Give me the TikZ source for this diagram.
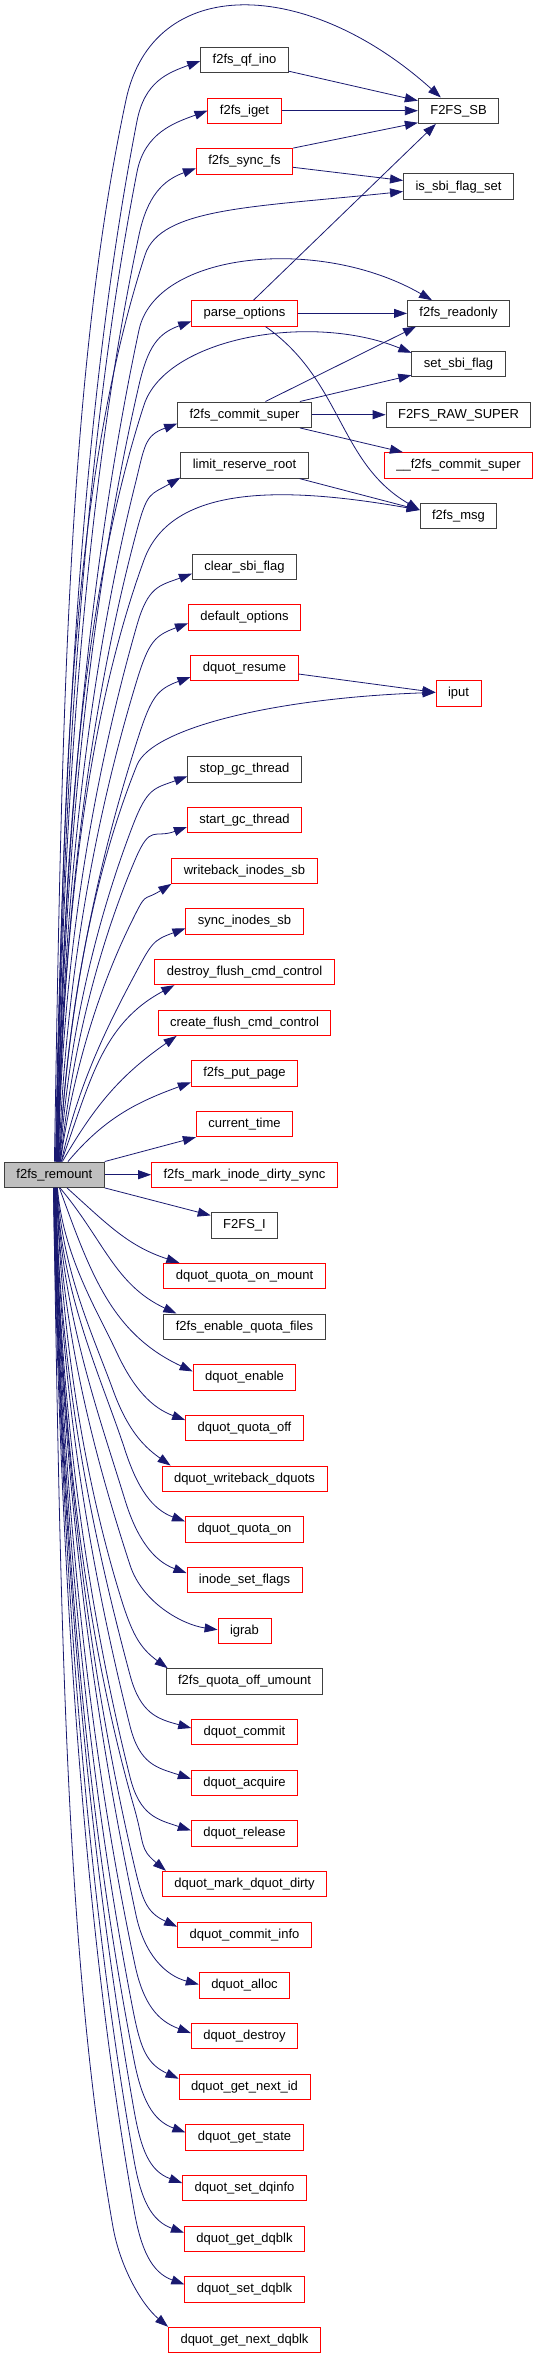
\documentclass[tikz,border=0pt]{standalone}
\usepackage{fontspec}
\setmainfont{Liberation Sans}
\usetikzlibrary{arrows.meta}
\definecolor{edgeblue}{HTML}{191970}
\definecolor{boxgray}{HTML}{404040}
\definecolor{rootgray}{HTML}{BFBFBF}
\tikzset{
  fn/.style={draw=boxgray, line width=0.9pt, font=\fontsize{13}{15}\selectfont,
    inner xsep=12pt, inner ysep=0pt, minimum height=25.5pt, text height=10pt, text depth=3pt},
  fnred/.style={fn, draw=red},
  fnroot/.style={fn, fill=rootgray},
  call/.style={edgeblue, line width=0.8pt, -{Triangle[length=13pt,width=9pt]}},
}

\begin{document}
\begin{tikzpicture}[x=1pt,y=1pt]
\useasboundingbox (0,0) rectangle (537,-2359);
\node[fnroot] (remount) at (54.4,-1174.7) {f2fs\_remount};
% linke Spalte
\node[fn]    (qfino)       at (244.5,-60)     {f2fs\_qf\_ino};
\node[fnred] (iget)        at (244.5,-110.7)  {f2fs\_iget};
\node[fnred] (syncfs)      at (244.5,-161.3)  {f2fs\_sync\_fs};
\node[fnred] (parseopt)    at (244.5,-313.4)  {parse\_options};
\node[fn]    (commitsuper) at (244.5,-414.7)  {f2fs\_commit\_super};
\node[fn]    (limitroot)   at (244.5,-465.4)  {limit\_reserve\_root};
\node[fn]    (clearflag)   at (244.5,-566.7)  {clear\_sbi\_flag};
\node[fnred] (defopts)     at (244.5,-617.4)  {default\_options};
\node[fnred] (dqresume)    at (244.5,-668)    {dquot\_resume};
\node[fn]    (stopgc)      at (244.5,-769.4)  {stop\_gc\_thread};
\node[fnred] (startgc)     at (244.5,-820)    {start\_gc\_thread};
\node[fnred] (wbinodes)    at (244.5,-870.7)  {writeback\_inodes\_sb};
\node[fnred] (syncinodes)  at (244.5,-921.4)  {sync\_inodes\_sb};
\node[fnred] (destroyfcc)  at (244.5,-972)    {destroy\_flush\_cmd\_control};
\node[fnred] (createfcc)   at (244.5,-1022.7) {create\_flush\_cmd\_control};
\node[fnred] (putpage)     at (244.5,-1073.4) {f2fs\_put\_page};
\node[fnred] (curtime)     at (244.5,-1124)   {current\_time};
\node[fnred] (markdirty)   at (244.5,-1174.7) {f2fs\_mark\_inode\_dirty\_sync};
\node[fn]    (fsi)         at (244.5,-1225.4) {F2FS\_I};
\node[fnred] (qonmount)    at (244.5,-1276)   {dquot\_quota\_on\_mount};
\node[fn]    (enquota)     at (244.5,-1326.7) {f2fs\_enable\_quota\_files};
\node[fnred] (dqenable)    at (244.5,-1377.4) {dquot\_enable};
\node[fnred] (qoff)        at (244.5,-1428)   {dquot\_quota\_off};
\node[fnred] (wbdquots)    at (244.5,-1478.7) {dquot\_writeback\_dquots};
\node[fnred] (qon)         at (244.5,-1529.4) {dquot\_quota\_on};
\node[fnred] (setflags)    at (244.5,-1580)   {inode\_set\_flags};
\node[fnred] (igrab)       at (244.5,-1630.7) {igrab};
\node[fn]    (qoffumount)  at (244.5,-1681.4) {f2fs\_quota\_off\_umount};
\node[fnred] (dqcommit)    at (244.5,-1732)   {dquot\_commit};
\node[fnred] (dqacquire)   at (244.5,-1782.7) {dquot\_acquire};
\node[fnred] (dqrelease)   at (244.5,-1833.4) {dquot\_release};
\node[fnred] (markdqdirty) at (244.5,-1884)   {dquot\_mark\_dquot\_dirty};
\node[fnred] (commitinfo)  at (244.5,-1934.7) {dquot\_commit\_info};
\node[fnred] (dqalloc)     at (244.5,-1985.4) {dquot\_alloc};
\node[fnred] (dqdestroy)   at (244.5,-2036)   {dquot\_destroy};
\node[fnred] (nextid)      at (244.5,-2086.7) {dquot\_get\_next\_id};
\node[fnred] (getstate)    at (244.5,-2137.4) {dquot\_get\_state};
\node[fnred] (setdqinfo)   at (244.5,-2188)   {dquot\_set\_dqinfo};
\node[fnred] (getdqblk)    at (244.5,-2238.7) {dquot\_get\_dqblk};
\node[fnred] (setdqblk)    at (244.5,-2289.4) {dquot\_set\_dqblk};
\node[fnred] (nextdqblk)   at (244.5,-2340)   {dquot\_get\_next\_dqblk};
% rechte Spalte
\node[fn]    (sb)           at (458.5,-110.7) {F2FS\_SB};
\node[fn]    (isflagset)    at (458.5,-186.5) {is\_sbi\_flag\_set};
\node[fn]    (readonly)     at (458.5,-313.4) {f2fs\_readonly};
\node[fn]    (setflag)      at (458.5,-364)   {set\_sbi\_flag};
\node[fn]    (rawsuper)     at (458.5,-414.7) {F2FS\_RAW\_SUPER};
\node[fnred] (ucommitsuper) at (458.5,-465.4) {\_\_f2fs\_commit\_super};
\node[fn]    (msg)          at (458.5,-516)   {f2fs\_msg};
\node[fnred] (iput)         at (458.5,-693.4) {iput};

% nach oben
\draw[call] (remount.north) .. controls ([shift={(89:415)}]remount.north) and ([shift={(258:290)}]126,-100) .. (126,-100)
  .. controls ([shift={(78:130)}]126,-100) and ([xshift=23,shift={(138:180)}]sb.north west) .. ([xshift=23]sb.north west);
\draw[call] ([xshift=1]remount.north) .. controls ([xshift=1,shift={(89:407)}]remount.north) and ([shift={(259:285)}]137,-121) .. (137,-121)
  .. controls ([shift={(79:40)}]137,-121) and ([yshift=-1,shift={(200:35)}]qfino.west) .. ([yshift=-1]qfino.west);
\draw[call] ([xshift=1.5]remount.north) .. controls ([xshift=1.5,shift={(89:387)}]remount.north) and ([shift={(259:270)}]137,-172) .. (137,-172)
  .. controls ([shift={(79:40)}]137,-172) and ([shift={(200:35)}]iget.west) .. (iget.west);
\draw[call] ([xshift=2]remount.north) .. controls ([xshift=2,shift={(89:363)}]remount.north) and ([shift={(258:253)}]139,-235) .. (139,-235)
  .. controls ([shift={(78:40)}]139,-235) and ([yshift=-7,shift={(200:35)}]syncfs.west) .. ([yshift=-7]syncfs.west);
\draw[call] ([xshift=2]remount.north) .. controls ([xshift=2,shift={(89:355)}]remount.north) and ([shift={(252:248)}]145,-255) .. (145,-255)
  .. controls ([shift={(72:50)}]145,-255) and ([yshift=-5,shift={(186:150)}]isflagset.west) .. ([yshift=-5]isflagset.west);
\draw[call] ([xshift=2.5]remount.north) .. controls ([xshift=2.5,shift={(89:326)}]remount.north) and ([shift={(258:228)}]139,-330) .. (139,-330)
  .. controls ([shift={(78:80)}]139,-330) and ([xshift=25,shift={(150:130)}]readonly.north west) .. ([xshift=25]readonly.north west);
\draw[call] ([xshift=3]remount.north) .. controls ([xshift=3,shift={(89:305)}]remount.north) and ([shift={(257:213)}]139,-385) .. (139,-385)
  .. controls ([shift={(77:40)}]139,-385) and ([yshift=-8,shift={(200:35)}]parseopt.west) .. ([yshift=-8]parseopt.west);
\draw[call] ([xshift=3]remount.north) .. controls ([xshift=3,shift={(89:297)}]remount.north) and ([shift={(252:207)}]144,-405) .. (144,-405)
  .. controls ([shift={(72:70)}]144,-405) and ([yshift=-2,shift={(158:110)}]setflag.north west) .. ([yshift=-2]setflag.north west);
\draw[call] ([xshift=3.5]remount.north) .. controls ([xshift=3.5,shift={(89:266)}]remount.north) and ([shift={(256:186)}]135,-485) .. (135,-485)
  .. controls ([shift={(76:40)}]135,-485) and ([yshift=-9,shift={(200:35)}]commitsuper.west) .. ([yshift=-9]commitsuper.west);
\draw[call] ([xshift=3.5]remount.north) .. controls ([xshift=3.5,shift={(89:248)}]remount.north) and ([shift={(255:174)}]137,-530) .. (137,-530)
  .. controls ([shift={(75:40)}]137,-530) and ([yshift=1,shift={(210:35)}]limitroot.south west) .. ([yshift=1]limitroot.south west);
\draw[call] ([xshift=4]remount.north) .. controls ([xshift=4,shift={(89:237)}]remount.north) and ([shift={(250:166)}]144,-560) .. (144,-560)
  .. controls ([shift={(70:80)}]144,-560) and ([yshift=6,shift={(170:140)}]msg.west) .. ([yshift=6]msg.west);
\draw[call] ([xshift=4]remount.north) .. controls ([xshift=4,shift={(89:212)}]remount.north) and ([shift={(254:148)}]137,-625) .. (137,-625)
  .. controls ([shift={(74:40)}]137,-625) and ([yshift=-7,shift={(200:35)}]clearflag.west) .. ([yshift=-7]clearflag.west);
\draw[call] ([xshift=4.5]remount.north) .. controls ([xshift=4.5,shift={(88:191)}]remount.north) and ([shift={(253:133)}]137,-680) .. (137,-680)
  .. controls ([shift={(73:40)}]137,-680) and ([yshift=-6,shift={(200:35)}]defopts.west) .. ([yshift=-6]defopts.west);
\draw[call] ([xshift=5]remount.north) .. controls ([xshift=5,shift={(87:170)}]remount.north) and ([shift={(252:119)}]139,-735) .. (139,-735)
  .. controls ([shift={(72:40)}]139,-735) and ([yshift=-9,shift={(200:35)}]dqresume.west) .. ([yshift=-9]dqresume.west);
\draw[call] ([xshift=5]remount.north) .. controls ([xshift=5,shift={(87:158)}]remount.north) and ([shift={(248:110)}]137,-765) .. (137,-765)
  .. controls ([shift={(68:40)}]137,-765) and ([yshift=1,shift={(182:160)}]iput.west) .. ([yshift=1]iput.west);
\draw[call] ([xshift=5.5]remount.north) .. controls ([xshift=5.5,shift={(86:135)}]remount.north) and ([shift={(249:94)}]133,-825) .. (133,-825)
  .. controls ([shift={(69:40)}]133,-825) and ([yshift=-7,shift={(200:35)}]stopgc.west) .. ([yshift=-7]stopgc.west);
\draw[call] ([xshift=6]remount.north) .. controls ([xshift=6,shift={(84:122)}]remount.north) and ([shift={(247:85)}]135,-860) .. (135,-860)
  .. controls ([shift={(67:40)}]135,-860) and ([yshift=-7,shift={(200:35)}]startgc.west) .. ([yshift=-7]startgc.west);
\draw[call] ([xshift=6]remount.north) .. controls ([xshift=6,shift={(82:96)}]remount.north) and ([shift={(244:67)}]130,-925) .. (130,-925)
  .. controls ([shift={(64:40)}]130,-925) and ([shift={(212:35)}]wbinodes.south west) .. (wbinodes.south west);
\draw[call] ([xshift=7]remount.north) .. controls ([xshift=7,shift={(78:77)}]remount.north) and ([shift={(242:54)}]133,-978) .. (133,-978)
  .. controls ([shift={(62:40)}]133,-978) and ([yshift=-7,shift={(200:35)}]syncinodes.west) .. ([yshift=-7]syncinodes.west);
\draw[call] ([xshift=7]remount.north) .. controls ([xshift=7,shift={(70:83)}]remount.north) and ([xshift=20,shift={(208:83)}]destroyfcc.south west) .. ([xshift=20]destroyfcc.south west);
\draw[call] ([xshift=8]remount.north) .. controls ([xshift=8,shift={(60:67)}]remount.north) and ([xshift=19,shift={(215:67)}]createfcc.south west) .. ([xshift=19]createfcc.south west);
\draw[call] ([xshift=13.6]remount.north) .. controls ([xshift=13.6,shift={(50:57)}]remount.north) and ([yshift=-9,shift={(200:57)}]putpage.west) .. ([yshift=-9]putpage.west);
\draw[call] (remount.north east) -- (curtime.south west);
\draw[call] (remount.east) -- (markdirty.west);
% nach unten
\draw[call] (remount.south east) -- ([yshift=10]fsi.west);
\draw[call] ([xshift=12.6]remount.south) .. controls ([xshift=12.6,shift={(-42:54)}]remount.south) and ([xshift=16,shift={(162:54)}]qonmount.north west) .. ([xshift=16]qonmount.north west);
\draw[call] ([xshift=5.6]remount.south) .. controls ([xshift=5.6,shift={(-50:68)}]remount.south) and ([xshift=13,shift={(155:68)}]enquota.north west) .. ([xshift=13]enquota.north west);
\draw[call] ([xshift=5]remount.south) .. controls ([xshift=5,shift={(-70:90)}]remount.south) and ([yshift=6,shift={(155:90)}]dqenable.west) .. ([yshift=6]dqenable.west);
\draw[call] ([xshift=3]remount.south) .. controls ([xshift=3,shift={(-85:69)}]remount.south) and ([shift={(115:48)}]117,-1353) .. (117,-1353)
  .. controls ([shift={(-65:40)}]117,-1353) and ([yshift=8,shift={(160:35)}]qoff.west) .. ([yshift=8]qoff.west);
\draw[call] ([xshift=3]remount.south) .. controls ([xshift=3,shift={(-87:82)}]remount.south) and ([shift={(110:57)}]113,-1390) .. (113,-1390)
  .. controls ([shift={(-70:40)}]113,-1390) and ([xshift=9,shift={(145:35)}]wbdquots.north west) .. ([xshift=9]wbdquots.north west);
\draw[call] ([xshift=2.5]remount.south) .. controls ([xshift=2.5,shift={(-88:106)}]remount.south) and ([shift={(108:74)}]125,-1450) .. (125,-1450)
  .. controls ([shift={(-72:40)}]125,-1450) and ([yshift=8,shift={(160:35)}]qon.west) .. ([yshift=8]qon.west);
\draw[call] ([xshift=2.5]remount.south) .. controls ([xshift=2.5,shift={(-88:125)}]remount.south) and ([shift={(107:88)}]125,-1500) .. (125,-1500)
  .. controls ([shift={(-73:40)}]125,-1500) and ([yshift=7,shift={(160:35)}]setflags.west) .. ([yshift=7]setflags.west);
\draw[call] ([xshift=2]remount.south) .. controls ([xshift=2,shift={(-88:150)}]remount.south) and ([shift={(108:105)}]130,-1565) .. (130,-1565)
  .. controls ([shift={(-72:40)}]130,-1565) and ([yshift=1,shift={(172:35)}]igrab.west) .. ([yshift=1]igrab.west);
\draw[call] ([xshift=2]remount.south) .. controls ([xshift=2,shift={(-88:161)}]remount.south) and ([shift={(107:113)}]120,-1595) .. (120,-1595)
  .. controls ([shift={(-73:40)}]120,-1595) and ([xshift=2,shift={(144:35)}]qoffumount.north west) .. ([xshift=2]qoffumount.north west);
\draw[call] ([xshift=1.5]remount.south) .. controls ([xshift=1.5,shift={(-89:193)}]remount.south) and ([shift={(105:135)}]130,-1675) .. (130,-1675)
  .. controls ([shift={(-75:40)}]130,-1675) and ([yshift=4,shift={(165:35)}]dqcommit.west) .. ([yshift=4]dqcommit.west);
\draw[call] ([xshift=1.5]remount.south) .. controls ([xshift=1.5,shift={(-89:212)}]remount.south) and ([shift={(104:148)}]130,-1726) .. (130,-1726)
  .. controls ([shift={(-76:40)}]130,-1726) and ([yshift=4,shift={(162:35)}]dqacquire.west) .. ([yshift=4]dqacquire.west);
\draw[call] ([xshift=1]remount.south) .. controls ([xshift=1,shift={(-89:232)}]remount.south) and ([shift={(104:162)}]130,-1777) .. (130,-1777)
  .. controls ([shift={(-76:40)}]130,-1777) and ([yshift=3,shift={(162:35)}]dqrelease.west) .. ([yshift=3]dqrelease.west);
\draw[call] ([xshift=1]remount.south) .. controls ([xshift=1,shift={(-89:244)}]remount.south) and ([shift={(106:170)}]134,-1807) .. (134,-1807)
  .. controls ([shift={(-74:40)}]134,-1807) and ([xshift=4,shift={(140:35)}]markdqdirty.north west) .. ([xshift=4]markdqdirty.north west);
\draw[call] ([xshift=1]remount.south) .. controls ([xshift=1,shift={(-89:264)}]remount.south) and ([shift={(103:185)}]133,-1860) .. (133,-1860)
  .. controls ([shift={(-77:40)}]133,-1860) and ([yshift=8,shift={(155:35)}]commitinfo.west) .. ([yshift=8]commitinfo.west);
\draw[call] ([xshift=0.5]remount.south) .. controls ([xshift=0.5,shift={(-89:286)}]remount.south) and ([shift={(102:200)}]136,-1915) .. (136,-1915)
  .. controls ([shift={(-78:40)}]136,-1915) and ([yshift=1,shift={(165:35)}]dqalloc.west) .. ([yshift=1]dqalloc.west);
\draw[call] ([xshift=0.5]remount.south) .. controls ([xshift=0.5,shift={(-89:305)}]remount.south) and ([shift={(102:213)}]135,-1965) .. (135,-1965)
  .. controls ([shift={(-78:40)}]135,-1965) and ([yshift=3,shift={(160:35)}]dqdestroy.west) .. ([yshift=3]dqdestroy.west);
\draw[call] (remount.south) .. controls ([shift={(-89:323)}]remount.south) and ([shift={(101:225)}]133,-2010) .. (133,-2010)
  .. controls ([shift={(-79:40)}]133,-2010) and ([yshift=8,shift={(155:35)}]nextid.west) .. ([yshift=8]nextid.west);
\draw[call] (remount.south) .. controls ([shift={(-89:342)}]remount.south) and ([shift={(101:239)}]134,-2060) .. (134,-2060)
  .. controls ([shift={(-79:40)}]134,-2060) and ([yshift=5,shift={(160:35)}]getstate.west) .. ([yshift=5]getstate.west);
\draw[call] ([xshift=-0.5]remount.south) .. controls ([xshift=-0.5,shift={(-89:361)}]remount.south) and ([shift={(100:252)}]134,-2110) .. (134,-2110)
  .. controls ([shift={(-80:40)}]134,-2110) and ([yshift=5,shift={(160:35)}]setdqinfo.west) .. ([yshift=5]setdqinfo.west);
\draw[call] ([xshift=-0.5]remount.south) .. controls ([xshift=-0.5,shift={(-89:381)}]remount.south) and ([shift={(100:266)}]134,-2160) .. (134,-2160)
  .. controls ([shift={(-80:40)}]134,-2160) and ([yshift=6,shift={(160:35)}]getdqblk.west) .. ([yshift=6]getdqblk.west);
\draw[call] ([xshift=-1]remount.south) .. controls ([xshift=-1,shift={(-89:400)}]remount.south) and ([shift={(100:280)}]134,-2210) .. (134,-2210)
  .. controls ([shift={(-80:40)}]134,-2210) and ([yshift=5,shift={(160:35)}]setdqblk.west) .. ([yshift=5]setdqblk.west);
\draw[call] ([xshift=-1]remount.south) .. controls ([xshift=-1,shift={(-89:406)}]remount.south) and ([shift={(100:284)}]113,-2227) .. (113,-2227)
  .. controls ([shift={(-80:40)}]113,-2227) and ([shift={(140:35)}]nextdqblk.north west) .. (nextdqblk.north west);
% zweite Ebene
\draw[call] ([yshift=2]qfino.south east) -- ([yshift=10]sb.west);
\draw[call] (iget.east) -- (sb.west);
\draw[call] (syncfs.north east) -- ([yshift=-12]sb.west);
\draw[call] ([yshift=-6]syncfs.east) -- ([yshift=6]isflagset.west);
\draw[call] ([xshift=9]parseopt.north) -- ([xshift=18]sb.south west);
\draw[call] (parseopt.east) -- (readonly.west);
\draw[call] ([xshift=21]parseopt.south) .. controls ([xshift=21,shift={(-35:94)}]parseopt.south) and ([yshift=6,shift={(150:94)}]msg.west) .. ([yshift=6]msg.west);
\draw[call] ([xshift=21]commitsuper.north) -- ([xshift=9]readonly.south west);
\draw[call] ([xshift=-12]commitsuper.north east) -- ([yshift=2]setflag.south west);
\draw[call] (commitsuper.east) -- (rawsuper.west);
\draw[call] ([xshift=-12]commitsuper.south east) -- ([xshift=19]ucommitsuper.north west);
\draw[call] ([xshift=-9]limitroot.south east) -- ([yshift=6]msg.west);
\draw[call] ([yshift=-6]dqresume.east) -- ([yshift=1]iput.west);
\end{tikzpicture}
\end{document}
